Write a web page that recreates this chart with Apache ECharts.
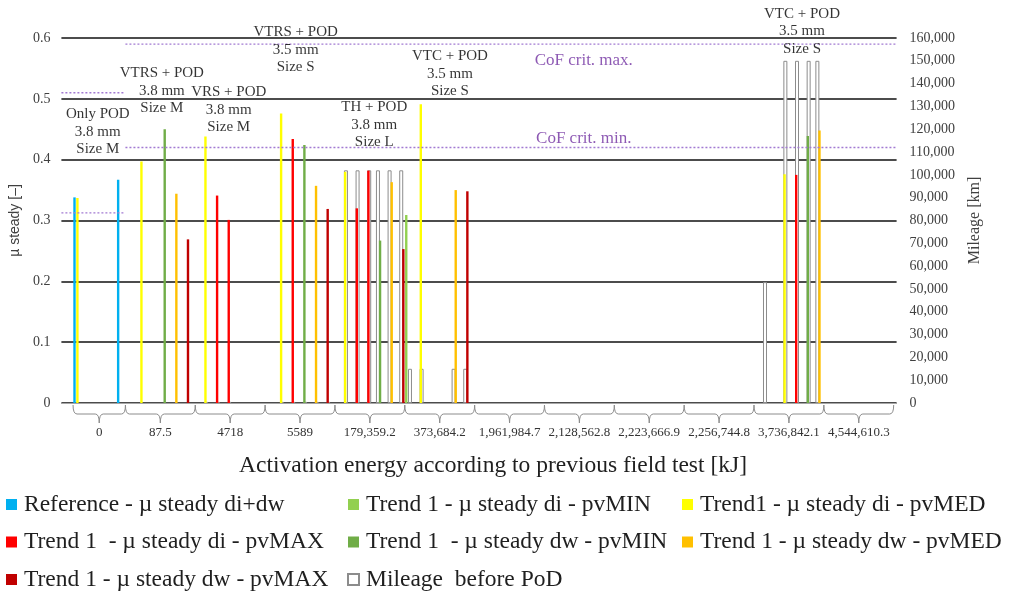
<!DOCTYPE html>
<html>
<head>
<meta charset="utf-8">
<script src="https://cdn.jsdelivr.net/npm/echarts@6/dist/echarts.min.js"></script>
<style>
  html, body { margin: 0; padding: 0; background: #ffffff; }
  #chart { width: 1025px; height: 594px; }
</style>
</head>
<body>
<div id="chart"></div>
<script>
// Activation-energy groups under the axis and how many measurement slots each spans
const groupLabels = ['0', '87.5', '4718', '5589', '179,359.2', '373,684.2', '1,961,984.7',
  '2,128,562.8', '2,223,666.9', '2,256,744.8', '3,736,842.1', '4,544,610.3'];
const groupSlots = [18, 24, 24, 24, 24, 24, 24, 24, 24, 24, 24, 24];
const leadSlots = 4;
const tailSlots = 1;

// µ steady per measurement slot: [slot, value]
const refDiDw = [[4, 0.338], [19, 0.367]];
const diMin = [[118, 0.309]];
const diMed = [[5, 0.337], [27, 0.397], [49, 0.438], [75, 0.476], [97, 0.380], [123, 0.491], [248, 0.376]];
const diMax = [[53, 0.341], [57, 0.301], [79, 0.434], [101, 0.320], [105, 0.382], [252, 0.375]];
const dwMin = [[35, 0.450], [83, 0.424], [109, 0.267], [256, 0.439]];
const dwMed = [[39, 0.344], [87, 0.357], [113, 0.363], [135, 0.350], [260, 0.448]];
const dwMax = [[43, 0.269], [91, 0.319], [117, 0.253], [139, 0.348]];

// Mileage before PoD per slot: [slot, km]
const mileage = [[49, 500], [53, 500], [57, 500], [75, 500], [79, 500], [83, 500], [87, 500], [91, 500],
  [97, 102000], [101, 102000], [105, 102000], [108, 102000], [112, 102000], [116, 102000],
  [119, 15000], [123, 15000], [134, 15000], [138, 15000],
  [241, 53000], [248, 150000], [252, 150000], [256, 150000], [259, 150000]];

// CoF criteria: [first slot, last slot, µ]
const cofMax = [[0, 21, 0.51], [22, 286, 0.59]];
const cofMin = [[0, 21, 0.3125], [22, 286, 0.42]];
const cofLabels = [[179, 0.563, 'CoF crit. max.'], [179, 0.434, 'CoF crit. min.']];

// Pad configuration notes: [slot, µ, text]
const padNotes = [
  [12, 0.4457, 'Only POD\n3.8 mm\nSize M'],
  [34, 0.513, 'VTRS + POD\n3.8 mm\nSize M'],
  [57, 0.482, 'VRS + POD\n3.8 mm\nSize M'],
  [80, 0.5806, 'VTRS + POD\n3.5 mm\nSize S'],
  [107, 0.4577, 'TH + POD\n3.8 mm\nSize L'],
  [133, 0.541, 'VTC + POD\n3.5 mm\nSize S'],
  [254, 0.6107, 'VTC + POD\n3.5 mm\nSize S']
];

const names = {
  ref: 'Reference - µ steady di+dw',
  diMin: 'Trend 1 - µ steady di - pvMIN',
  diMed: 'Trend1 - µ steady di - pvMED',
  diMax: 'Trend 1  - µ steady di - pvMAX',
  dwMin: 'Trend 1  - µ steady dw - pvMIN',
  dwMed: 'Trend 1 - µ steady dw - pvMED',
  dwMax: 'Trend 1 - µ steady dw - pvMAX',
  km: 'Mileage  before PoD'
};

const totalSlots = leadSlots + groupSlots.reduce((a, b) => a + b, 0) + tailSlots;
const slots = Array.from({ length: totalSlots }, (_, i) => String(i));

// bracket spans for the group labels
const groupSpans = [];
let start = leadSlots;
groupSlots.forEach((n, i) => { groupSpans.push([start, start + n - 1, 0, i]); start += n; });

const SERIF = '"Liberation Serif", "DejaVu Serif", serif';

function muBar(name, data, color) {
  return {
    name, type: 'bar', data, xAxisIndex: 0, yAxisIndex: 0,
    barWidth: 2.4, barGap: '-100%',
    itemStyle: { color }
  };
}

function noteSeries(items, labelStyle) {
  return {
    type: 'scatter', silent: true, clip: false, z: 5,
    data: items.map(n => ({ value: [n[0], n[1]], label: { formatter: n[2] } })),
    symbolSize: 1, itemStyle: { color: 'rgba(0,0,0,0)' },
    label: Object.assign({ show: true, position: 'inside', fontFamily: SERIF }, labelStyle),
    labelLayout: { hideOverlap: false }
  };
}

const chart = echarts.init(document.getElementById('chart'));
chart.setOption({
  animation: false,
  backgroundColor: '#ffffff',
  grid: { left: 59.5, right: 128.4, top: 38, bottom: 191 },
  legend: [
    { left: 6, data: [names.ref, names.diMax, names.dwMax] },
    { left: 347, data: [names.diMin, names.dwMin, names.km] },
    { left: 682, data: [names.diMed, names.dwMed] }
  ].map(l => Object.assign({
    top: 492, orient: 'vertical', padding: 0, itemGap: 12.5,
    itemWidth: 11, itemHeight: 11, icon: 'rect', selectedMode: false,
    textStyle: { fontFamily: SERIF, fontSize: 23.5, color: '#1f1f1f', lineHeight: 25, padding: [0, 0, 0, 2] }
  }, l)),
  graphic: [{
    type: 'text', x: 493, y: 466,
    style: { text: 'Activation energy according to previous field test [kJ]', fontFamily: SERIF, fontSize: 23.5,
      fill: '#1f1f1f', align: 'center', verticalAlign: 'middle' }
  }],
  xAxis: {
    type: 'category', data: slots, boundaryGap: true,
    axisLine: { lineStyle: { color: '#a6a6a6', width: 1 } },
    axisTick: { show: false }, axisLabel: { show: false }, splitLine: { show: false }
  },
  yAxis: [{
    type: 'value', min: 0, max: 0.6, interval: 0.1,
    name: 'µ steady [–]', nameLocation: 'middle', nameRotate: 90, nameGap: 37,
    nameTextStyle: { fontFamily: '"Liberation Sans", Arial, sans-serif', fontSize: 14, color: '#404040' },
    axisLine: { show: false }, axisTick: { show: false },
    axisLabel: { margin: 11, fontFamily: SERIF, fontSize: 14, color: '#404040' },
    splitLine: { lineStyle: { color: '#111111', width: 1.5 } }
  }, {
    type: 'value', min: 0, max: 160000, interval: 10000, position: 'right',
    name: 'Mileage [km]', nameLocation: 'middle', nameRotate: 90, nameGap: 70,
    nameTextStyle: { fontFamily: SERIF, fontSize: 16, color: '#404040' },
    axisLine: { show: false }, axisTick: { show: false },
    axisLabel: { margin: 13, fontFamily: SERIF, fontSize: 14, color: '#404040',
      formatter: v => v.toLocaleString('en-US') },
    splitLine: { show: false }
  }],
  series: [
    {
      name: names.km, type: 'bar', data: mileage, xAxisIndex: 0, yAxisIndex: 1,
      barWidth: 4, barGap: '-100%',
      itemStyle: { color: '#ffffff', borderColor: '#8c8c8c', borderWidth: 1 }
    },
    muBar(names.ref, refDiDw, '#00b0f0'),
    muBar(names.diMin, diMin, '#92d050'),
    muBar(names.diMed, diMed, '#ffff00'),
    muBar(names.diMax, diMax, '#ff0000'),
    muBar(names.dwMin, dwMin, '#70ad47'),
    muBar(names.dwMed, dwMed, '#ffc000'),
    muBar(names.dwMax, dwMax, '#c00000'),
    {
      // CoF criterion lines
      type: 'custom', silent: true, z: 3,
      data: cofMax.concat(cofMin),
      encode: { x: [0, 1], y: 2 },
      renderItem(params, api) {
        const half = api.size([1, 0])[0] / 2;
        const a = api.coord([api.value(0), api.value(2)]);
        const b = api.coord([api.value(1), api.value(2)]);
        return {
          type: 'line',
          shape: { x1: a[0] - half, y1: a[1], x2: b[0] + half, y2: b[1] },
          style: { stroke: '#a27ad2', lineWidth: 1.3, lineDash: [2, 2] }
        };
      }
    },
    {
      // group brackets and activation-energy labels
      type: 'custom', silent: true,
      data: groupSpans,
      encode: { x: [0, 1], y: 2 },
      renderItem(params, api) {
        const half = api.size([1, 0])[0] / 2;
        const a = api.coord([api.value(0), 0]);
        const b = api.coord([api.value(1), 0]);
        const x0 = a[0] - half, x1 = b[0] + half, xm = (x0 + x1) / 2, y = a[1];
        const yt = y + 2, yh = y + 11, yd = y + 20;
        const path = `M${x0},${yt} Q${x0},${yh} ${x0 + 4},${yh} L${xm - 4},${yh} Q${xm},${yh} ${xm},${yd} ` +
          `M${xm},${yd} Q${xm},${yh} ${xm + 4},${yh} L${x1 - 4},${yh} Q${x1},${yh} ${x1},${yt}`;
        return {
          type: 'group',
          children: [
            { type: 'path', shape: { pathData: path }, style: { fill: null, stroke: '#8c8c8c', lineWidth: 1 } },
            { type: 'text', style: { text: groupLabels[api.value(3)], x: xm, y: y + 30,
              align: 'center', verticalAlign: 'middle', fontFamily: SERIF, fontSize: 13, fill: '#333333' } }
          ]
        };
      }
    },
    // pad configuration notes and CoF labels
    noteSeries(padNotes, { fontSize: 15, lineHeight: 17.5, color: '#000000' }),
    noteSeries(cofLabels, { fontSize: 17, color: '#7030a0' })
  ]
});
</script>
</body>
</html>
